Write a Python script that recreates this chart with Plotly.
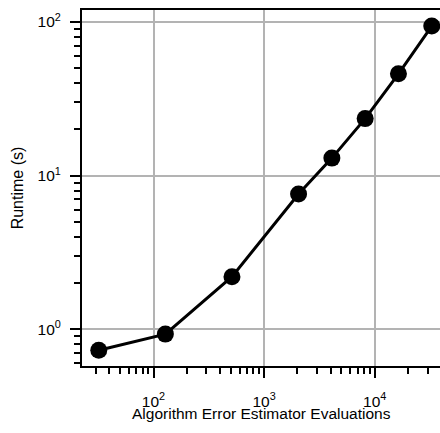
import plotly.graph_objects as go

evaluations = [32, 128, 512, 2048, 4096, 8192, 16384, 32768]
runtime = [0.73, 0.93, 2.2, 7.6, 13.0, 23.5, 46.0, 94.0]

x_tickvals = [100, 1000, 10000]
x_ticktext = ["10<sup>2</sup>", "10<sup>3</sup>", "10<sup>4</sup>"]
y_tickvals = [1, 10, 100]
y_ticktext = ["10<sup>0</sup>", "10<sup>1</sup>", "10<sup>2</sup>"]
x_title = "Algorithm Error Estimator Evaluations"
y_title = "Runtime (s)"

FAMILY = "Liberation Sans, Arial, sans-serif"

fig = go.Figure()
fig.add_trace(go.Scatter(
    x=evaluations, y=runtime, mode="lines+markers",
    line=dict(color="black", width=3),
    marker=dict(color="black", size=17),
    showlegend=False,
))

fig.update_layout(
    width=440, height=433,
    margin=dict(l=82, r=0, t=10, b=67),
    paper_bgcolor="white", plot_bgcolor="white",
    font=dict(family=FAMILY, size=13.5, color="black"),
)
fig.add_annotation(
    text=x_title, xref="paper", yref="paper", x=0.5, y=-0.133,
    xanchor="center", yanchor="middle", showarrow=False,
    font=dict(family=FAMILY, size=15.5, color="black"),
)
fig.update_xaxes(
    type="log", range=[1.3535, 4.590],
    showline=True, linecolor="black", linewidth=2, mirror=True,
    showgrid=True, gridcolor="#b3b3b3", gridwidth=2,
    ticks="outside", ticklen=10, tickwidth=2, tickcolor="black",
    tickvals=x_tickvals, ticktext=x_ticktext, tickfont=dict(family=FAMILY, size=15.5),
    ticklabelstandoff=10,
    minor=dict(ticks="outside", ticklen=6, tickwidth=2, tickcolor="black", showgrid=False, dtick="D1"),
    zeroline=False,
)
fig.update_yaxes(
    type="log", range=[-0.239, 2.078],
    showline=True, linecolor="black", linewidth=2,
    showgrid=True, gridcolor="#b3b3b3", gridwidth=2,
    ticks="outside", ticklen=10, tickwidth=2, tickcolor="black",
    tickvals=y_tickvals, ticktext=y_ticktext, tickfont=dict(family=FAMILY, size=15.5),
    ticklabelstandoff=6,
    minor=dict(ticks="outside", ticklen=6, tickwidth=2, tickcolor="black", showgrid=False, dtick="D1"),
    title=dict(text=y_title, standoff=10),
    zeroline=False,
)
fig.write_html("out.html")
